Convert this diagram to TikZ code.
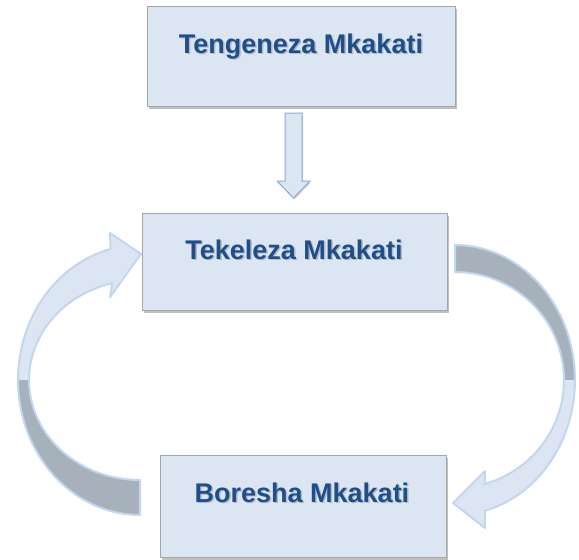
\documentclass[tikz,border=0pt]{standalone}
\usepackage{fontspec}
\setmainfont{Liberation Sans}
\usetikzlibrary{shadows}
\definecolor{boxfill}{HTML}{DCE6F2}
\definecolor{boxline}{HTML}{A6A6A6}
\definecolor{txt}{HTML}{1F4E8A}
\definecolor{arrlight}{HTML}{DCE6F2}
\definecolor{arrline}{HTML}{C4D6EE}
\definecolor{arrdark}{HTML}{A7B1BC}
\definecolor{downline}{HTML}{8EAADB}
\begin{document}
\begin{tikzpicture}[x=1pt,y=-1pt,
  stepbox/.style={draw=boxline, line width=0.6pt, fill=boxfill, inner sep=0pt,
    drop shadow={shadow xshift=1.5pt, shadow yshift=-2.5pt, opacity=0.35, fill=black!70}},
  lbl/.style={font=\bfseries\fontsize{27}{31}\selectfont, text=txt, anchor=base, inner sep=0pt},
  lblshadow/.style={lbl, text=black, opacity=0.18},
  bandline/.style={draw=arrline, line width=2pt, line join=round}]
\useasboundingbox (0,0) rectangle (579,560);

% boxes
\node[stepbox, minimum width=308pt, minimum height=100pt] (b1) at (301,56) {};
\node[stepbox, minimum width=305pt, minimum height=97pt] (b2) at (294.5,261.5) {};
\node[stepbox, minimum width=286pt, minimum height=102pt] (b3) at (303,506) {};

% labels
\node[lblshadow] (t1s) at (302.5,54.5) {Tengeneza Mkakati};
\node[lbl] (t1) at (301,53) {Tengeneza Mkakati};
\node[lblshadow] (t2s) at (295.5,260.5) {Tekeleza Mkakati};
\node[lbl] (t2) at (294,259) {Tekeleza Mkakati};
\node[lblshadow] (t3s) at (303.5,503.5) {Boresha Mkakati};
\node[lbl] (t3) at (302,502) {Boresha Mkakati};

% down arrow
\draw[fill=arrlight, draw=downline, line width=1pt, line join=miter,
      drop shadow={shadow xshift=1pt, shadow yshift=-1.5pt, opacity=0.25, fill=black!70}]
  (285,113) -- (302,113) -- (302,181) -- (310,181) -- (293.5,198) -- (277,181) -- (285,181) -- cycle;

% left curved arrow (Boresha -> Tekeleza)
\fill[arrdark] (18,380) -- plot[domain=180:90, samples=40] ({140+122*cos(\x)},{380+135*sin(\x)})
  -- (140,480) -- plot[domain=90:180, samples=40] ({140+111*cos(\x)},{380+100*sin(\x)}) -- cycle;
\fill[arrlight] (18,380) -- plot[domain=180:256, samples=40] ({140+122*cos(\x)},{380+135*sin(\x)})
  -- (110,233) -- (141,254) -- (110,297)
  -- plot[domain=255.5:180, samples=40] ({140+111*cos(\x)},{380+100*sin(\x)}) -- cycle;
\draw[bandline] (140,515) -- plot[domain=90:256, samples=60] ({140+122*cos(\x)},{380+135*sin(\x)})
  -- (110,233) -- (141,254) -- (110,297)
  -- plot[domain=255.5:90, samples=60] ({140+111*cos(\x)},{380+100*sin(\x)}) -- cycle;

% right curved arrow (Tekeleza -> Boresha)
\fill[arrdark] (455,245) -- plot[domain=270:360, samples=40] ({455+120*cos(\x)},{380+135*sin(\x)})
  -- (565,380) -- plot[domain=360:270, samples=40] ({455+109*cos(\x)},{380+108*sin(\x)}) -- cycle;
\fill[arrlight] (575,380) -- plot[domain=0:75.5, samples=40] ({455+120*cos(\x)},{380+135*sin(\x)})
  -- (485,528) -- (453,503) -- (485,471)
  -- plot[domain=74.2:0, samples=40] ({455+109*cos(\x)},{380+108*sin(\x)}) -- cycle;
\draw[bandline] (455,245) -- plot[domain=-90:75.5, samples=60] ({455+120*cos(\x)},{380+135*sin(\x)})
  -- (485,528) -- (453,503) -- (485,471)
  -- plot[domain=74.2:-90, samples=60] ({455+109*cos(\x)},{380+108*sin(\x)}) -- cycle;
\end{tikzpicture}
\end{document}
